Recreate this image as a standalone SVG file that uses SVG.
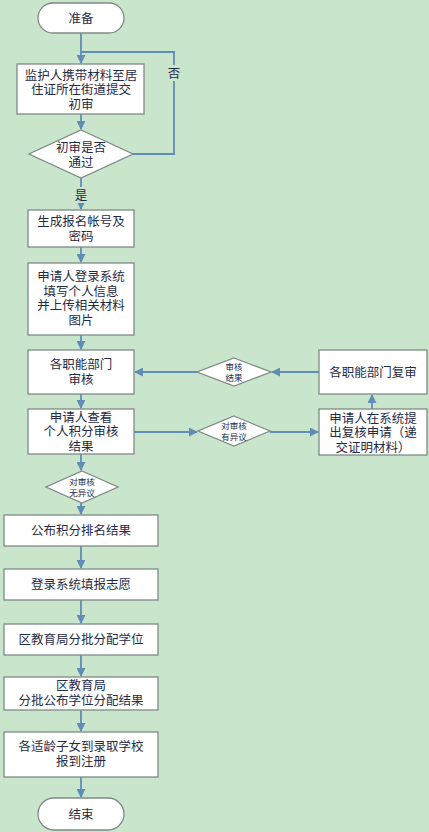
<svg xmlns="http://www.w3.org/2000/svg" width="429" height="832" viewBox="0 0 429 832">
<style>
.bg{fill:#c9e5cb}
.box{fill:#ffffff;stroke:#7f8a86;stroke-width:1.3}
.t{font-family:"Liberation Sans","Noto Sans CJK SC",sans-serif;font-size:12.5px;fill:#1f2b47;text-anchor:middle}
.s{font-family:"Liberation Sans","Noto Sans CJK SC",sans-serif;font-size:8.5px;fill:#1f2b47;text-anchor:middle}
.ln{fill:none;stroke:#5f8db5;stroke-width:1.8}
</style>
<defs>
<marker id="ah" viewBox="0 0 10 10" refX="9" refY="5" markerWidth="5" markerHeight="5" orient="auto" markerUnits="strokeWidth">
<path d="M0,0 L10,5 L0,10 z" fill="#5f8db5"/>
</marker>
</defs>
<rect class="bg" x="0" y="0" width="429" height="832"/>

<g id="connectors">
<path class="ln" d="M81,33 V63" marker-end="url(#ah)"/>
<path class="ln" d="M133,154 H174 V52 H81"/>
<path class="ln" d="M81,114 V129" marker-end="url(#ah)"/>
<path class="ln" d="M81,178 V209" marker-end="url(#ah)"/>
<path class="ln" d="M81,247 V262" marker-end="url(#ah)"/>
<path class="ln" d="M81,335 V349" marker-end="url(#ah)"/>
<path class="ln" d="M81,394 V408" marker-end="url(#ah)"/>
<path class="ln" d="M81,454 V470" marker-end="url(#ah)"/>
<path class="ln" d="M81,503 V514" marker-end="url(#ah)"/>
<path class="ln" d="M81,546 V568" marker-end="url(#ah)"/>
<path class="ln" d="M81,600 V623" marker-end="url(#ah)"/>
<path class="ln" d="M81,655 V676" marker-end="url(#ah)"/>
<path class="ln" d="M81,710 V731" marker-end="url(#ah)"/>
<path class="ln" d="M81,777 V797" marker-end="url(#ah)"/>
<path class="ln" d="M319,372 H272" marker-end="url(#ah)"/>
<path class="ln" d="M197,372 H135" marker-end="url(#ah)"/>
<path class="ln" d="M134,432 H197" marker-end="url(#ah)"/>
<path class="ln" d="M270,432 H318" marker-end="url(#ah)"/>
<path class="ln" d="M372,409 V395" marker-end="url(#ah)"/>
<rect class="bg" x="166" y="65" width="15" height="16"/>
<text class="t" x="174" y="78">否</text>
<rect class="bg" x="74" y="187" width="15" height="16"/>
<text class="t" x="81" y="200">是</text>
</g>

<g id="start">
<rect class="box" x="38" y="3" width="86" height="30" rx="15"/>
<text class="t" x="81" y="23">准备</text>
</g>

<g id="n1">
<rect class="box" x="17" y="64" width="127" height="50"/>
<text class="t" x="81" y="79.5">监护人携带材料至居</text>
<text class="t" x="81" y="94">住证所在街道提交</text>
<text class="t" x="81" y="108.5">初审</text>
</g>

<g id="d1">
<polygon class="box" points="81,130 133,154 81,178 29,154"/>
<text class="t" x="81" y="152">初审是否</text>
<text class="t" x="81" y="166.5">通过</text>
</g>

<g id="n2">
<rect class="box" x="28" y="210" width="106" height="37"/>
<text class="t" x="81" y="226">生成报名帐号及</text>
<text class="t" x="81" y="240.5">密码</text>
</g>

<g id="n3">
<rect class="box" x="28" y="263" width="106" height="72"/>
<text class="t" x="81" y="281">申请人登录系统</text>
<text class="t" x="81" y="295.5">填写个人信息</text>
<text class="t" x="81" y="310">并上传相关材料</text>
<text class="t" x="81" y="324.5">图片</text>
</g>

<g id="n4">
<rect class="box" x="28" y="350" width="106" height="44"/>
<text class="t" x="81" y="369">各职能部门</text>
<text class="t" x="81" y="383.5">审核</text>
</g>

<g id="n5">
<rect class="box" x="28" y="409" width="106" height="45"/>
<text class="t" x="81" y="421.5">申请人查看</text>
<text class="t" x="81" y="436">个人积分审核</text>
<text class="t" x="81" y="450.5">结果</text>
</g>

<g id="d2">
<polygon class="box" points="82,471 118,487 82,503 46,487"/>
<text class="s" x="82" y="485">对审核</text>
<text class="s" x="82" y="495.5">无异议</text>
</g>

<g id="d3">
<polygon class="box" points="234,358 271,372 234,386 197,372"/>
<text class="s" x="234" y="370">审核</text>
<text class="s" x="234" y="380.5">结果</text>
</g>

<g id="r1">
<rect class="box" x="319" y="350" width="108" height="44"/>
<text class="t" x="373" y="377">各职能部门复审</text>
</g>

<g id="d4">
<polygon class="box" points="234,416 270,431 234,446 198,431"/>
<text class="s" x="234" y="429">对审核</text>
<text class="s" x="234" y="439.5">有异议</text>
</g>

<g id="r2">
<rect class="box" x="319" y="409" width="108" height="46"/>
<text class="t" x="373" y="422.5">申请人在系统提</text>
<text class="t" x="373" y="437">出复核申请（递</text>
<text class="t" x="373" y="451.5">交证明材料）</text>
</g>

<g id="n6">
<rect class="box" x="4" y="515" width="154" height="31"/>
<text class="t" x="81" y="535">公布积分排名结果</text>
</g>

<g id="n7">
<rect class="box" x="4" y="569" width="154" height="31"/>
<text class="t" x="81" y="589">登录系统填报志愿</text>
</g>

<g id="n8">
<rect class="box" x="4" y="624" width="154" height="31"/>
<text class="t" x="81" y="644">区教育局分批分配学位</text>
</g>

<g id="n9">
<rect class="box" x="4" y="677" width="154" height="33"/>
<text class="t" x="81" y="690">区教育局</text>
<text class="t" x="81" y="704.5">分批公布学位分配结果</text>
</g>

<g id="n10">
<rect class="box" x="4" y="732" width="154" height="45"/>
<text class="t" x="81" y="751">各适龄子女到录取学校</text>
<text class="t" x="81" y="765.5">报到注册</text>
</g>

<g id="end">
<rect class="box" x="38" y="798" width="86" height="32" rx="16"/>
<text class="t" x="81" y="819">结束</text>
</g>
</svg>
